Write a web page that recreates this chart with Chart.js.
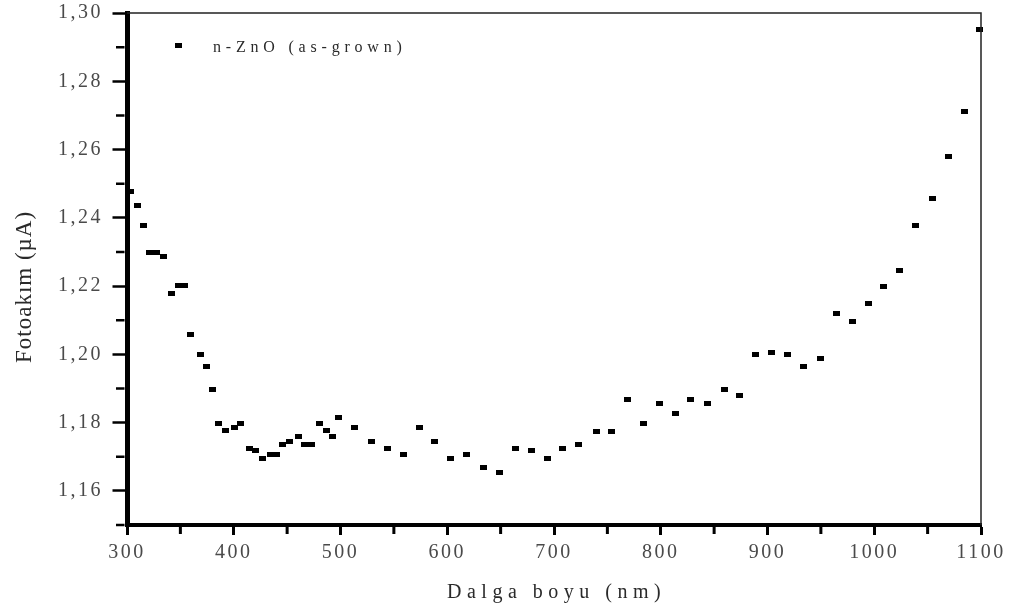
<!DOCTYPE html>
<html>
<head>
<meta charset="utf-8">
<script src="https://cdn.jsdelivr.net/npm/chart.js@4/dist/chart.umd.min.js"></script>
<style>
  html, body { margin: 0; padding: 0; background: #fff; }
</style>
</head>
<body>
<canvas id="chart" width="1019" height="615"></canvas>
<script>
'use strict';

const wavelength = [
  303.7, 310.0, 315.5, 321.5, 328.1, 334.0, 341.9, 347.8, 354.3, 359.7,
  369.0, 374.7, 380.3, 385.5, 392.7, 400.5, 405.9, 415.2, 420.6, 426.5,
  434.6, 440.2, 446.1, 452.0, 461.1, 466.7, 472.4, 480.1, 487.1, 492.7,
  497.9, 512.9, 528.6, 544.2, 558.8, 573.8, 588.5, 603.2, 617.8, 633.8,
  648.8, 664.1, 678.7, 693.7, 708.4, 723.1, 739.6, 754.3, 769.3, 784.0,
  798.6, 813.6, 828.3, 844.0, 859.5, 874.2, 889.0, 903.9, 918.6, 933.9,
  949.8, 964.8, 979.4, 994.4, 1008.9, 1023.5, 1038.2, 1054.1, 1070.0, 1084.3,
  1098.4,
];
const photocurrent = [
  1.2477, 1.2436, 1.2378, 1.2298, 1.2298, 1.2287, 1.2177, 1.2201, 1.2201, 1.2057,
  1.1999, 1.1965, 1.1896, 1.1798, 1.1776, 1.1787, 1.1798, 1.1724, 1.1718, 1.1695,
  1.1707, 1.1707, 1.1735, 1.1746, 1.1758, 1.1736, 1.1736, 1.1798, 1.1776, 1.1758,
  1.1816, 1.1787, 1.1746, 1.1724, 1.1707, 1.1787, 1.1746, 1.1695, 1.1707, 1.1667,
  1.1655, 1.1723, 1.1717, 1.1695, 1.1723, 1.1735, 1.1775, 1.1775, 1.1868, 1.1798,
  1.1856, 1.1827, 1.1868, 1.1856, 1.1896, 1.1878, 1.1999, 1.2005, 1.1999, 1.1965,
  1.1987, 1.2119, 1.2097, 1.2148, 1.2200, 1.2246, 1.2377, 1.2458, 1.2579, 1.2711,
  1.2952,
];

const xTicks = [300, 400, 500, 600, 700, 800, 900, 1000, 1100];
const xMinorTicks = [350, 450, 550, 650, 750, 850, 950, 1050];
const yTicks = [1.16, 1.18, 1.20, 1.22, 1.24, 1.26, 1.28, 1.30];
const yMinorTicks = [1.15, 1.17, 1.19, 1.21, 1.23, 1.25, 1.27, 1.29];

const seriesLabel = 'n-ZnO (as-grown)';
const xTitle = 'Dalga boyu (nm)';
const yTitle = 'Fotoakım (µA)';

const serif = "'Liberation Serif', 'DejaVu Serif', serif";

// small filled rectangle used as the point marker
const marker = document.createElement('canvas');
marker.width = 7;
marker.height = 5;
const mctx = marker.getContext('2d');
mctx.fillStyle = '#000';
mctx.fillRect(0, 0, 7, 5);

const frame = {
  id: 'frame',
  beforeDraw(chart) {
    chart.ctx.letterSpacing = '2.5px';
  },
  afterDraw(chart) {
    const { ctx, chartArea: a } = chart;
    const xs = chart.scales.x;
    const ys = chart.scales.y;
    ctx.save();

    // thin top and right edges
    ctx.strokeStyle = '#222';
    ctx.lineWidth = 1.5;
    ctx.beginPath();
    ctx.moveTo(a.left, a.top);
    ctx.lineTo(a.right, a.top);
    ctx.lineTo(a.right, a.bottom);
    ctx.stroke();

    // minor ticks
    ctx.strokeStyle = '#000';
    ctx.lineWidth = 3;
    ctx.beginPath();
    xMinorTicks.forEach((v) => {
      const px = xs.getPixelForValue(v);
      ctx.moveTo(px, a.bottom + 2);
      ctx.lineTo(px, a.bottom + 9);
    });
    ctx.stroke();
    ctx.lineWidth = 2.5;
    ctx.beginPath();
    yMinorTicks.forEach((v) => {
      const py = ys.getPixelForValue(v);
      ctx.moveTo(a.left - 2.5, py);
      ctx.lineTo(a.left - 11, py);
    });
    ctx.stroke();

    // axis titles
    ctx.fillStyle = '#2a2a2a';
    ctx.textBaseline = 'alphabetic';
    ctx.textAlign = 'left';
    ctx.font = '20px ' + serif;
    ctx.letterSpacing = '5.5px';
    ctx.fillText(xTitle, 447, 598);

    ctx.save();
    ctx.translate(31, 363);
    ctx.rotate(-Math.PI / 2);
    ctx.font = '23px ' + serif;
    ctx.letterSpacing = '1px';
    ctx.fillText(yTitle, 0, 0);
    ctx.restore();

    // legend
    ctx.drawImage(marker, 175, 43);
    ctx.font = '16px ' + serif;
    ctx.letterSpacing = '4.8px';
    ctx.fillStyle = '#2a2a2a';
    ctx.fillText(seriesLabel, 213, 52);

    ctx.restore();
  },
};

const tickFont = { family: serif, size: 20 };

new Chart(document.getElementById('chart'), {
  type: 'scatter',
  data: {
    datasets: [
      {
        label: seriesLabel,
        data: wavelength.map((x, i) => ({ x: x, y: photocurrent[i] })),
        pointStyle: marker,
        pointRadius: 4,
        backgroundColor: '#000',
        borderColor: '#000',
        clip: false,
      },
    ],
  },
  options: {
    responsive: false,
    animation: false,
    layout: { padding: { top: 13, right: 38, bottom: 0, left: 0 } },
    plugins: {
      legend: { display: false },
      tooltip: { enabled: false },
    },
    scales: {
      x: {
        type: 'linear',
        min: 300,
        max: 1100,
        afterBuildTicks: (s) => {
          s.ticks = xTicks.map((v) => ({ value: v }));
        },
        afterFit: (s) => {
          s.height = 90;
          s.paddingLeft = 0;
          s.paddingRight = 0;
        },
        ticks: {
          font: tickFont,
          color: '#4a4a4a',
          padding: 6,
          maxRotation: 0,
          autoSkip: false,
          callback: (v) => String(v),
        },
        grid: {
          drawOnChartArea: false,
          tickLength: 10,
          tickWidth: 3,
          tickColor: '#000',
        },
        border: { width: 4, color: '#000' },
      },
      y: {
        type: 'linear',
        min: 1.15,
        max: 1.30,
        afterBuildTicks: (s) => {
          s.ticks = yTicks.map((v) => ({ value: v }));
        },
        afterFit: (s) => {
          s.width = 127;
          s.paddingTop = 0;
          s.paddingBottom = 0;
        },
        ticks: {
          font: tickFont,
          color: '#4a4a4a',
          padding: 9.5,
          autoSkip: false,
          callback: (v) => v.toFixed(2).replace('.', ','),
        },
        grid: {
          drawOnChartArea: false,
          tickLength: 14.5,
          tickWidth: 2.5,
          tickColor: '#000',
        },
        border: { width: 5, color: '#000' },
      },
    },
  },
  plugins: [frame],
});
</script>
</body>
</html>
